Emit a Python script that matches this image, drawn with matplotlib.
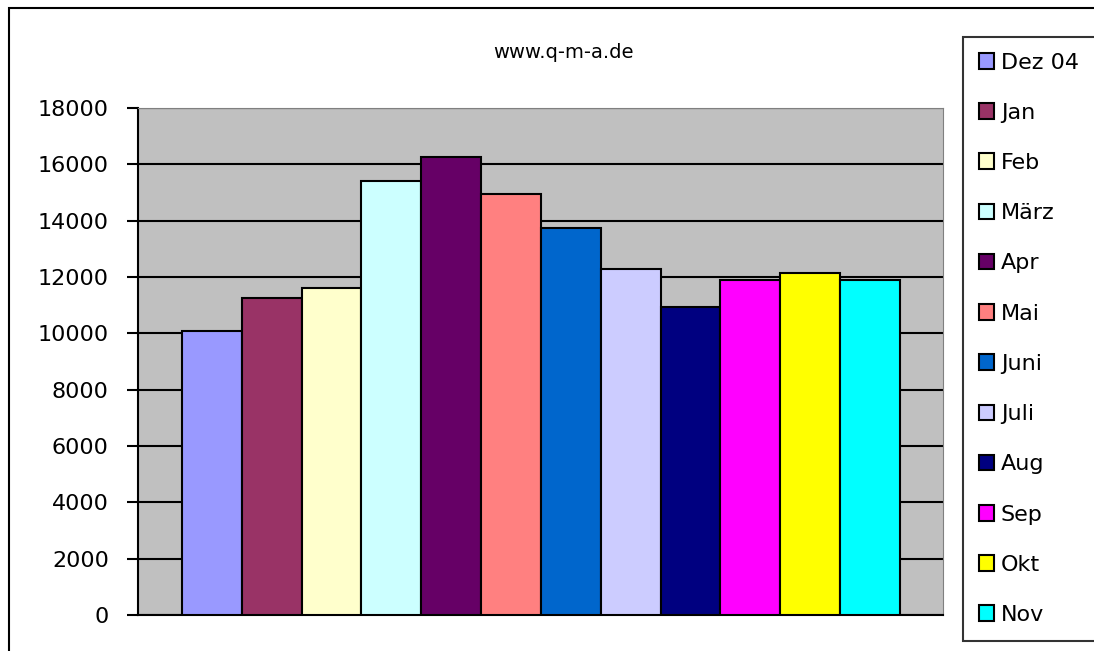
import matplotlib
matplotlib.use("Agg")
import matplotlib.pyplot as plt
from matplotlib.patches import Rectangle, Patch

months = ["Dez 04", "Jan", "Feb", "März", "Apr", "Mai", "Juni", "Juli", "Aug", "Sep", "Okt", "Nov"]
values = [10100, 11250, 11600, 15400, 16250, 14950, 13750, 12300, 10950, 11900, 12150, 11900]
colors = ["#9999FF", "#993366", "#FFFFCC", "#CCFFFF", "#660066", "#FF8080",
          "#0066CC", "#CCCCFF", "#000080", "#FF00FF", "#FFFF00", "#00FFFF"]
yticks = list(range(0, 18001, 2000))
title = "www.q-m-a.de"

W, H = 1094, 651
fig = plt.figure(figsize=(W / 100, H / 100), dpi=100)
fig.patch.set_facecolor("white")

# outer chart frame
fig.patches.append(Rectangle((9 / W, -0.1), 1.2, 1 - 8 / H + 0.1, transform=fig.transFigure,
                             fill=False, edgecolor="black", linewidth=1.5))

ax = fig.add_axes([138 / W, 1 - 615 / H, (943 - 138) / W, (615 - 108) / H])
ax.set_facecolor("#C0C0C0")
x = list(range(len(values)))
ax.bar(x, values, width=1.0, color=colors, edgecolor="black", linewidth=1.5, zorder=3)
ax.set_xlim(-0.5 - 0.735, 11.5 + 0.72)
ax.set_ylim(0, 18000)
ax.set_yticks(yticks)
ax.set_yticklabels([str(v) for v in yticks], fontsize=16, family="DejaVu Sans")
ax.yaxis.grid(True, color="black", linewidth=1.5, zorder=1)
ax.set_axisbelow(True)
ax.set_xticks([])
ax.tick_params(axis="y", direction="out", length=8, width=1.5, pad=13)
ax.spines["left"].set_linewidth(1.5)
ax.spines["bottom"].set_linewidth(1.5)
ax.spines["top"].set_color("#808080")
ax.spines["right"].set_color("#808080")

fig.text(563 / W, 1 - 52 / H, title, ha="center", va="center", fontsize=14, family="DejaVu Sans")

handles = [Patch(facecolor=c, edgecolor="black", linewidth=1.5) for c in colors]
leg = fig.legend(handles, months, loc="upper left",
                 bbox_to_anchor=(963 / W, 0, 200 / W, 1 - 37 / H), mode="expand",
                 fontsize=16, frameon=True, fancybox=False, edgecolor="black",
                 handlelength=0.7, handleheight=0.7, handletextpad=0.3,
                 labelspacing=1.36, borderpad=0.7, borderaxespad=0)
leg.get_frame().set_linewidth(1.5)
for t in leg.get_texts():
    t.set_family("DejaVu Sans")

fig.savefig("out.png", dpi=100)
